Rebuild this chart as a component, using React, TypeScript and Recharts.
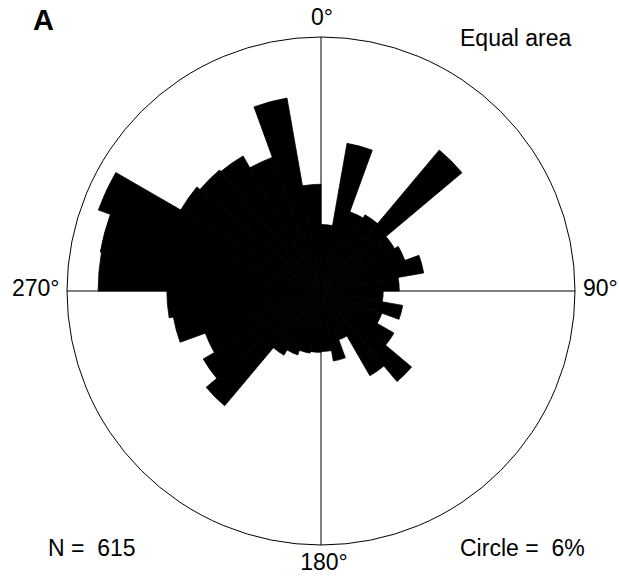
import { RadialBarChart, RadialBar, PolarAngleAxis, PolarRadiusAxis, PolarGrid } from 'recharts';

// 10° direction classes, clockwise from north
const directions = [
  '0', '10', '20', '30', '40', '50', '60', '70', '80',
  '90', '100', '110', '120', '130', '140', '150', '160', '170',
  '180', '190', '200', '210', '220', '230', '240', '250', '260',
  '270', '280', '290', '300', '310', '320', '330', '340', '350',
];

// percentage of measurements in each class
const percent = [
  0.41, 2.09, 0.66, 0.72, 3.15, 0.67, 0.74, 1.01, 0.57,
  0.36, 0.64, 0.39, 0.66, 1.3, 0.89, 0.25, 0.47, 0.34,
  0.35, 0.37, 0.43, 0.51, 2.09, 1.72, 1.41, 2.09, 2.21,
  4.62, 4.67, 5.22, 2.44, 2.32, 2.26, 1.88, 3.57, 1.06,
];

const circlePercent = 6;
const sampleCount = 615;

const rose = directions.map((dir, i) => ({ dir, pct: percent[i] }));

const W = 619;
const H = 578;
const CX = 321;
const CY = 291;
const R = 254;

const font = 'Liberation Sans, Arial, Helvetica, sans-serif';
const labelSize = 23;

export default function App() {
  return (
    <div style={{ position: 'absolute', left: 0, top: 0 }}>
      <RadialBarChart
        width={W}
        height={H}
        data={rose}
        cx={CX}
        cy={CY}
        innerRadius={0}
        outerRadius={R}
        // bands start one class later than the axis origin, so shift by one class
        startAngle={80}
        endAngle={-280}
        layout="centric"
        barCategoryGap={0}
        barGap={0}
        margin={{ top: 0, right: 0, bottom: 0, left: 0 }}
      >
        <PolarGrid
          gridType="circle"
          polarAngles={[0, 90, 180, 270]}
          polarRadius={[R]}
          stroke="#000"
          strokeWidth={1}
          strokeOpacity={1}
        />
        <PolarAngleAxis type="category" dataKey="dir" tick={false} axisLine={false} />
        <PolarRadiusAxis
          type="number"
          scale="sqrt"
          domain={[0, circlePercent]}
          tick={false}
          axisLine={false}
        />
        {/* thin outline closes the anti-aliasing seams between petals */}
        <RadialBar
          dataKey="pct"
          fill="#000"
          stroke="#000"
          strokeWidth={0.8}
          isAnimationActive={false}
        />

        <text x={33} y={30} fontFamily={font} fontSize={29} fontWeight="bold" fill="#000">
          A
        </text>
        <text x={322} y={25} textAnchor="middle" fontFamily={font} fontSize={labelSize} fill="#000">
          0°
        </text>
        <text x={583} y={296} fontFamily={font} fontSize={labelSize} fill="#000">
          90°
        </text>
        <text x={324} y={570} textAnchor="middle" fontFamily={font} fontSize={labelSize} fill="#000">
          180°
        </text>
        <text x={12} y={296} fontFamily={font} fontSize={labelSize} fill="#000">
          270°
        </text>
        <text x={460} y={46} fontFamily={font} fontSize={labelSize} fill="#000">
          Equal area
        </text>
        <text x={48} y={556} fontFamily={font} fontSize={labelSize} fill="#000" style={{ whiteSpace: 'pre' }}>
          {`N =  ${sampleCount}`}
        </text>
        <text x={460} y={556} fontFamily={font} fontSize={labelSize} fill="#000" style={{ whiteSpace: 'pre' }}>
          {`Circle =  ${circlePercent}%`}
        </text>
      </RadialBarChart>
    </div>
  );
}
